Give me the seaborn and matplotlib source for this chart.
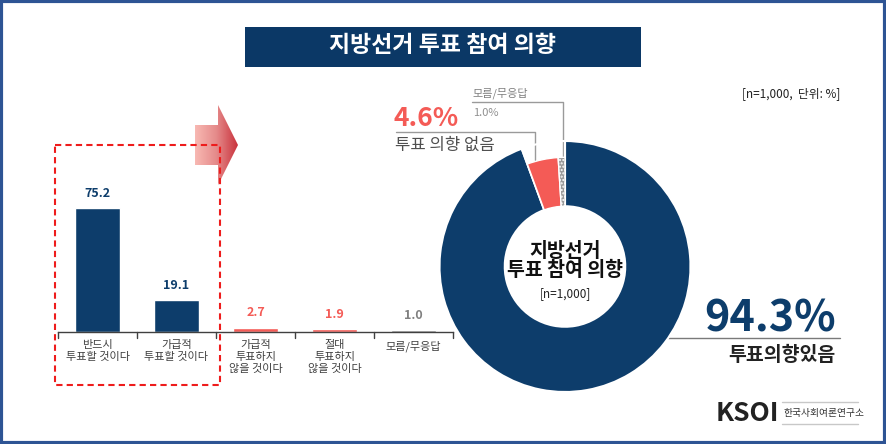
import numpy as np
import matplotlib
matplotlib.use('Agg')
import matplotlib.pyplot as plt
import seaborn as sns
import pandas as pd
from matplotlib.patches import Rectangle, Polygon

sns.set_style('white')
plt.rcParams['font.family'] = ['Noto Sans CJK KR', 'DejaVu Sans']

# data
bar_labels = ['반드시\n투표할 것이다', '가급적\n투표할 것이다', '가급적\n투표하지\n않을 것이다',
              '절대\n투표하지\n않을 것이다', '모름/무응답']
bar_values = [75.2, 19.1, 2.7, 1.9, 1.0]
pie_labels = ['투표 의향 있음', '투표 의향 없음', '모름/무응답']
pie_values = [94.3, 4.6, 1.0]

NAVY = '#0d3d6b'
RED = '#f45b56'
GRAY = '#808080'
bar_colors = [NAVY, NAVY, RED, RED, GRAY]

W, H = 887, 444
fig = plt.figure(figsize=(W / 100, H / 100), dpi=100)

def px_axes(x0, y0, w, h):
    # axes in pixel coordinates (top-left origin)
    return fig.add_axes([x0 / W, 1 - (y0 + h) / H, w / W, h / H])

# background overlay for texts and shapes
bg = fig.add_axes([0, 0, 1, 1], zorder=0)
bg.set_xlim(0, W)
bg.set_ylim(H, 0)
bg.axis('off')

# frame
bg.add_patch(Rectangle((1.5, 1.5), W - 3, H - 3, fill=False, ec='#2e5494', lw=3))

# title banner
bg.add_patch(Rectangle((245, 27), 396, 40, fc='#0b3866', ec='none'))
bg.text(443, 46, '지방선거 투표 참여 의향', color='white', fontsize=16.5,
        fontweight='bold', ha='center', va='center')

bg.text(840, 94, '[n=1,000,  단위: %]', fontsize=8.5, color='#222222', ha='right', va='center')

# bar chart
df = pd.DataFrame({'label': bar_labels, 'value': bar_values})
axb = px_axes(58, 190, 395, 142)
sns.barplot(data=df, x='label', y='value', hue='label', palette=bar_colors,
            legend=False, width=0.56, ax=axb, saturation=1)
axb.set_xlim(-0.5, 4.5)
axb.set_ylim(0, 142 / 1.65)
axb.set_xlabel('')
axb.set_ylabel('')
axb.set_yticks([])
for s in ['top', 'right', 'left']:
    axb.spines[s].set_visible(False)
axb.spines['bottom'].set_color('#404040')
axb.spines['bottom'].set_linewidth(1)
axb.set_xticks(np.arange(5))
axb.set_xticklabels(bar_labels, fontsize=8, color='#404040', va='top', linespacing=1.25)
axb.tick_params(axis='x', length=0, pad=6)
axb.patch.set_alpha(0)
for b in np.arange(-0.5, 5, 1):
    axb.plot([b, b], [0, -3.5], color='#404040', lw=1, clip_on=False)
for i, v in enumerate(bar_values):
    axb.text(i, v + 5, f'{v:.1f}', ha='center', va='bottom', fontsize=9,
             fontweight='bold', color=bar_colors[i])

# dashed box
bg.add_patch(Rectangle((55, 145), 165, 240, fill=False, ec='#ee1c1c', lw=1.5,
                       ls=(0, (3, 2)), zorder=5))

# gradient arrow
arrow = Polygon([(195, 125), (218, 125), (218, 105), (238, 145), (218, 185),
                 (218, 165), (195, 165)], closed=True, fc='none', ec='none')
bg.add_patch(arrow)
grad = np.linspace(0, 1, 256).reshape(1, -1)
cmap = matplotlib.colors.LinearSegmentedColormap.from_list('g', ['#f8b9b3', '#e58a8a', '#c9323c'])
im = bg.imshow(grad, extent=(195, 238, 185, 105), cmap=cmap, aspect='auto', zorder=4)
im.set_clip_path(arrow)
bg.set_xlim(0, W)
bg.set_ylim(H, 0)

# donut
cx, cy, R = 565, 266.5, 125.5
axp = px_axes(cx - R, cy - R, 2 * R, 2 * R)
axp.pie(pie_values, colors=[NAVY, 'none', 'none'], radius=1, startangle=90,
        counterclock=False, wedgeprops=dict(width=0.52, edgecolor='white', linewidth=1.5))
w2, _ = axp.pie(pie_values, colors=['none', RED, '#9a9a9a'], radius=0.87, startangle=90,
                counterclock=False, wedgeprops=dict(width=0.39, edgecolor='white', linewidth=1))
w2[0].set_edgecolor('none')
w2[2].set_hatch('.....')
w2[2].set_edgecolor('white')
axp.set_xlim(-1, 1)
axp.set_ylim(-1, 1)
axp.set_aspect('equal')
axp.text(0, 0.045, '지방선거\n투표 참여 의향', ha='center', va='center', fontsize=14,
         fontweight='bold', color='#111111', linespacing=0.95)
axp.text(0, -0.215, '[n=1,000]', ha='center', va='center', fontsize=8.5, color='#222222')

# annotations
bg.text(394, 118, '4.6%', color=RED, fontsize=19, fontweight='bold', ha='left', va='center')
bg.plot([396, 535, 535], [132, 132, 160], color='#9a9a9a', lw=1)
bg.text(395, 145, '투표 의향 없음', color='#505050', fontsize=12, ha='left', va='center')
bg.text(472, 93, '모름/무응답', color='#808080', fontsize=8, ha='left', va='center')
bg.plot([472, 563, 563], [102, 102, 158], color='#9a9a9a', lw=1)
bg.text(473, 113, '1.0%', color='#909090', fontsize=8, ha='left', va='center')

bg.text(836, 318, '94.3%', color=NAVY, fontsize=31, fontweight='bold', ha='right', va='center')
bg.plot([668, 840], [338, 338], color='#7a7a7a', lw=1)
bg.text(836, 355, '투표의향있음', color='#222222', fontsize=14, fontweight='bold', ha='right', va='center')

# logo
bg.text(716, 413, 'KSOI', color='#222222', fontsize=19, fontweight='black', ha='left', va='center')
bg.plot([782, 858], [402, 402], color='#c8c8c8', lw=1)
bg.plot([782, 858], [424, 424], color='#c8c8c8', lw=1)
bg.text(784, 413, '한국사회여론연구소', color='#333333', fontsize=7, ha='left', va='center')

fig.savefig('out.png', dpi=100)
